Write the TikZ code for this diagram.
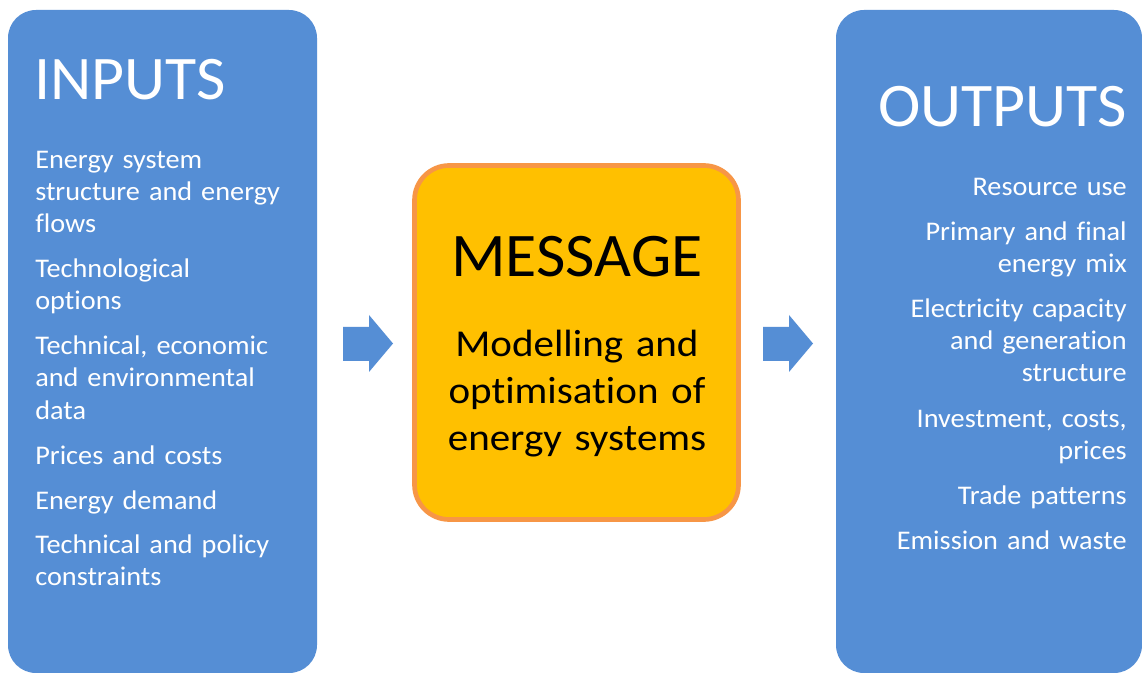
\documentclass[tikz,border=0pt]{standalone}
\usepackage{fontspec}
\setmainfont{Carlito}[Ligatures=NoCommon]
\newfontfamily\titlefont{Carlito}[FakeStretch=1.03,Ligatures=NoCommon]
\newfontfamily\bodyfont{Carlito}[FakeStretch=1.05,Ligatures=NoCommon]
\newfontfamily\centrefont{Carlito}[FakeStretch=1.08,Ligatures=NoCommon]
\definecolor{boxblue}{HTML}{558ED5}
\definecolor{msgfill}{HTML}{FFC000}
\definecolor{msgline}{HTML}{F79646}
\begin{document}
\begin{tikzpicture}[x=0.75pt,y=-0.75pt,
  bluebox/.style={fill=boxblue,draw=none,rounded corners=21pt},
  title/.style={text=white,inner sep=0pt,font=\titlefont\fontsize{46.5}{56}\selectfont},
  inleft/.style={text=white,inner sep=0pt,anchor=base west,align=left,text width=220pt,font=\bodyfont\fontsize{20.2}{24}\selectfont},
  inright/.style={text=white,inner sep=0pt,anchor=base east,align=right,text width=220pt,font=\bodyfont\fontsize{20.2}{24}\selectfont},
  blockarrow/.style={fill=boxblue,draw=none}]
\useasboundingbox (0,0) rectangle (1142,673);
\fill[white] (0,0) rectangle (1142,673);
% side boxes
\path[bluebox] (8,10) rectangle (317,673);
\path[bluebox] (836,10) rectangle (1142,673);
% centre box
\draw[fill=msgfill,draw=msgline,line width=3.5pt,rounded corners=26pt] (414.5,165.5) rectangle (738.5,519.5);
% block arrows
\fill[blockarrow] (343,327) -- (369,327) -- (369,315) -- (393,343.5) -- (369,372) -- (369,361) -- (343,361) -- cycle;
\fill[blockarrow] (763,327) -- (789,327) -- (789,315) -- (813,343.5) -- (789,372) -- (789,361) -- (763,361) -- cycle;
% titles
\node[title,anchor=base west] (inputs) at (34,100) {INPUTS};
\node[title,anchor=base east] (outputs) at (1127,127) {OUTPUTS};
\node[inner sep=0pt,anchor=base,font=\titlefont\fontsize{46.5}{56}\selectfont] (message) at (577,277) {MESSAGE};
\node[inner sep=0pt,anchor=base,align=center,text width=260pt,font=\centrefont\fontsize{28.5}{35.25}\selectfont] (msgtext) at (577,357) {Modelling and\\optimisation of\\energy systems};
% inputs list
\node[inleft] (i1) at (35,169) {Energy system\\structure and energy\\flows};
\node[inleft] (i2) at (35,278) {Technological\\options};
\node[inleft] (i3) at (35,355) {Technical, economic\\and environmental\\data};
\node[inleft] (i4) at (35,464) {Prices and costs};
\node[inleft] (i5) at (35,509) {Energy demand};
\node[inleft] (i6) at (35,553) {Technical and policy\\constraints};
% outputs list
\node[inright] (o1) at (1127,196) {Resource use};
\node[inright] (o2) at (1127,241) {Primary and final\\energy mix};
\node[inright] (o3) at (1127,318) {Electricity capacity\\and generation\\structure};
\node[inright] (o4) at (1127,427) {Investment, costs,\\prices};
\node[inright] (o5) at (1127,504) {Trade patterns};
\node[inright] (o6) at (1127,549) {Emission and waste};
\end{tikzpicture}
\end{document}
